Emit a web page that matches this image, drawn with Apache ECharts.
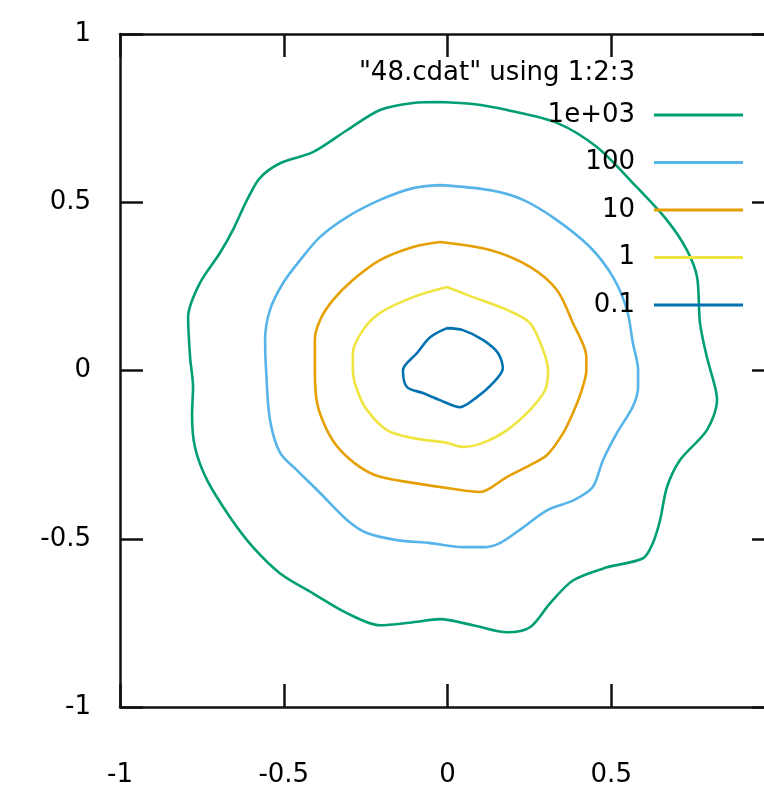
<!DOCTYPE html>
<html>
<head>
<meta charset="utf-8">
<script src="https://cdn.jsdelivr.net/npm/echarts@6/dist/echarts.min.js"></script>
<style>html,body{margin:0;padding:0;background:#fff}#c{width:764px;height:789px}</style>
</head>
<body>
<div id="c"></div>
<script>
const chartTitle = '"48.cdat" using 1:2:3';
const levels = ['1e+03', '100', '10', '1', '0.1'];
const xTicks = [-1, -0.5, 0, 0.5, 1];
const yTicks = [-1, -0.5, 0, 0.5, 1];
const xTickLabels = ['-1', '-0.5', '0', '0.5', '1'];
const yTickLabels = ['-1', '-0.5', '0', '0.5', '1'];

const c1000x = [-0.023,-0.105,-0.206,-0.307,-0.411,-0.511,-0.573,-0.612,-0.655,-0.695,-0.756,-0.792,-0.786,-0.777,-0.780,-0.771,-0.734,-0.664,-0.594,-0.511,-0.411,-0.307,-0.206,-0.105,-0.023,0.078,0.182,0.252,0.313,0.383,0.487,0.597,0.627,0.649,0.670,0.710,0.792,0.823,0.817,0.792,0.771,0.762,0.731,0.670,0.566,0.456,0.334,0.182,0.078,-0.023];
const c1000y = [0.798,0.795,0.774,0.714,0.649,0.616,0.572,0.507,0.418,0.349,0.260,0.159,0.040,-0.049,-0.132,-0.228,-0.326,-0.436,-0.525,-0.603,-0.662,-0.721,-0.757,-0.748,-0.739,-0.757,-0.778,-0.763,-0.692,-0.624,-0.585,-0.558,-0.513,-0.445,-0.347,-0.266,-0.177,-0.088,-0.049,0.040,0.141,0.278,0.358,0.447,0.557,0.664,0.736,0.774,0.792,0.798];

const c100x = [-0.023,-0.105,-0.206,-0.307,-0.389,-0.450,-0.502,-0.542,-0.557,-0.554,-0.542,-0.511,-0.460,-0.389,-0.307,-0.246,-0.154,-0.053,0.047,0.108,0.160,0.231,0.305,0.384,0.443,0.475,0.517,0.566,0.582,0.582,0.566,0.548,0.505,0.435,0.334,0.231,0.130,-0.023];
const c100y = [0.551,0.542,0.507,0.456,0.397,0.328,0.260,0.180,0.091,0.001,-0.147,-0.245,-0.296,-0.364,-0.444,-0.483,-0.504,-0.513,-0.525,-0.525,-0.513,-0.466,-0.415,-0.386,-0.347,-0.266,-0.186,-0.107,-0.049,0.001,0.082,0.180,0.278,0.367,0.447,0.507,0.536,0.551];

const c10x = [-0.023,-0.105,-0.206,-0.289,-0.350,-0.389,-0.405,-0.405,-0.398,-0.368,-0.328,-0.267,-0.206,-0.105,-0.002,0.099,0.182,0.252,0.304,0.353,0.383,0.410,0.424,0.424,0.383,0.334,0.252,0.130,-0.023];
const c10y = [0.382,0.367,0.328,0.269,0.209,0.150,0.091,0.001,-0.097,-0.177,-0.236,-0.287,-0.316,-0.334,-0.349,-0.361,-0.316,-0.281,-0.251,-0.186,-0.126,-0.058,0.001,0.040,0.141,0.239,0.308,0.358,0.382];

const c1x = [-0.002,-0.105,-0.206,-0.258,-0.289,-0.289,-0.276,-0.246,-0.185,-0.105,-0.002,0.047,0.108,0.182,0.252,0.298,0.307,0.292,0.252,0.182,0.078,-0.002];
const c1y = [0.248,0.218,0.171,0.120,0.052,0.001,-0.058,-0.117,-0.177,-0.201,-0.215,-0.227,-0.215,-0.177,-0.117,-0.058,0.001,0.061,0.141,0.180,0.218,0.248];

const c01x = [-0.002,-0.053,-0.093,-0.136,-0.124,-0.075,-0.023,0.038,0.090,0.139,0.169,0.154,0.108,0.047,-0.002];
const c01y = [0.126,0.099,0.052,0.001,-0.049,-0.067,-0.088,-0.109,-0.079,-0.037,0.007,0.052,0.091,0.120,0.126];

const colors = ['#009e73', '#56b4e9', '#e69f00', '#f0e442', '#0072b2'];
const xs = [c1000x, c100x, c10x, c1x, c01x];
const ys = [c1000y, c100y, c10y, c1y, c01y];

const FONT = 'DejaVu Sans';
function zip(a, b) { const n = Math.min(a.length, b.length); const r = []; for (let i = 0; i < n; i++) r.push([a[i], b[i]]); return r; }
function labelFor(ticks, labels) { return function (v) { for (let i = 0; i < ticks.length; i++) if (Math.abs(ticks[i] - v) < 1e-9) return labels[i]; return ''; }; }

const axisCommon = {
  type: 'value', min: xTicks[0], max: xTicks[xTicks.length - 1], interval: 0.5,
  axisLine: { show: true, onZero: false, lineStyle: { color: '#111', width: 2.5 } },
  axisTick: { show: true, inside: true, length: 23, lineStyle: { color: '#111', width: 2.5 } },
  splitLine: { show: false }
};

const chart = echarts.init(document.getElementById('c'), null, { renderer: 'canvas' });
chart.setOption({
  animation: false,
  backgroundColor: '#fff',
  title: { text: chartTitle, right: 129, top: 60, padding: 0,
    textStyle: { fontFamily: FONT, fontSize: 26, fontWeight: 'normal', color: '#000', lineHeight: 26 } },
  legend: {
    orient: 'vertical', right: 21, top: 102, padding: 0, align: 'right',
    icon: 'rect', itemWidth: 89, itemHeight: 3, itemGap: 21.5,
    textStyle: { fontFamily: FONT, fontSize: 26, color: '#000', lineHeight: 20, padding: [0, 14, 0, 0] },
    data: levels
  },
  grid: { left: 120, top: 34, width: 655, height: 673, show: false, containLabel: false, outerBoundsMode: 'none' },
  xAxis: [
    Object.assign({}, axisCommon, { position: 'bottom',
      axisLabel: { show: true, margin: 55, fontFamily: FONT, fontSize: 26, color: '#000', lineHeight: 26, formatter: labelFor(xTicks, xTickLabels) } }),
    Object.assign({}, axisCommon, { position: 'top', axisLabel: { show: false } })
  ],
  yAxis: [
    Object.assign({}, axisCommon, { min: yTicks[0], max: yTicks[yTicks.length - 1], position: 'left',
      axisLabel: { show: true, margin: 29, fontFamily: FONT, fontSize: 26, color: '#000', formatter: labelFor(yTicks, yTickLabels) } }),
    Object.assign({}, axisCommon, { min: yTicks[0], max: yTicks[yTicks.length - 1], position: 'right', axisLabel: { show: false } })
  ],
  series: levels.map(function (name, i) {
    return {
      name: name, type: 'line', xAxisIndex: 0, yAxisIndex: 0,
      data: zip(xs[i], ys[i]), symbol: 'none', smooth: 0.3,
      lineStyle: { color: colors[i], width: 2.6 }, itemStyle: { color: colors[i] }
    };
  })
});
</script>
</body>
</html>
